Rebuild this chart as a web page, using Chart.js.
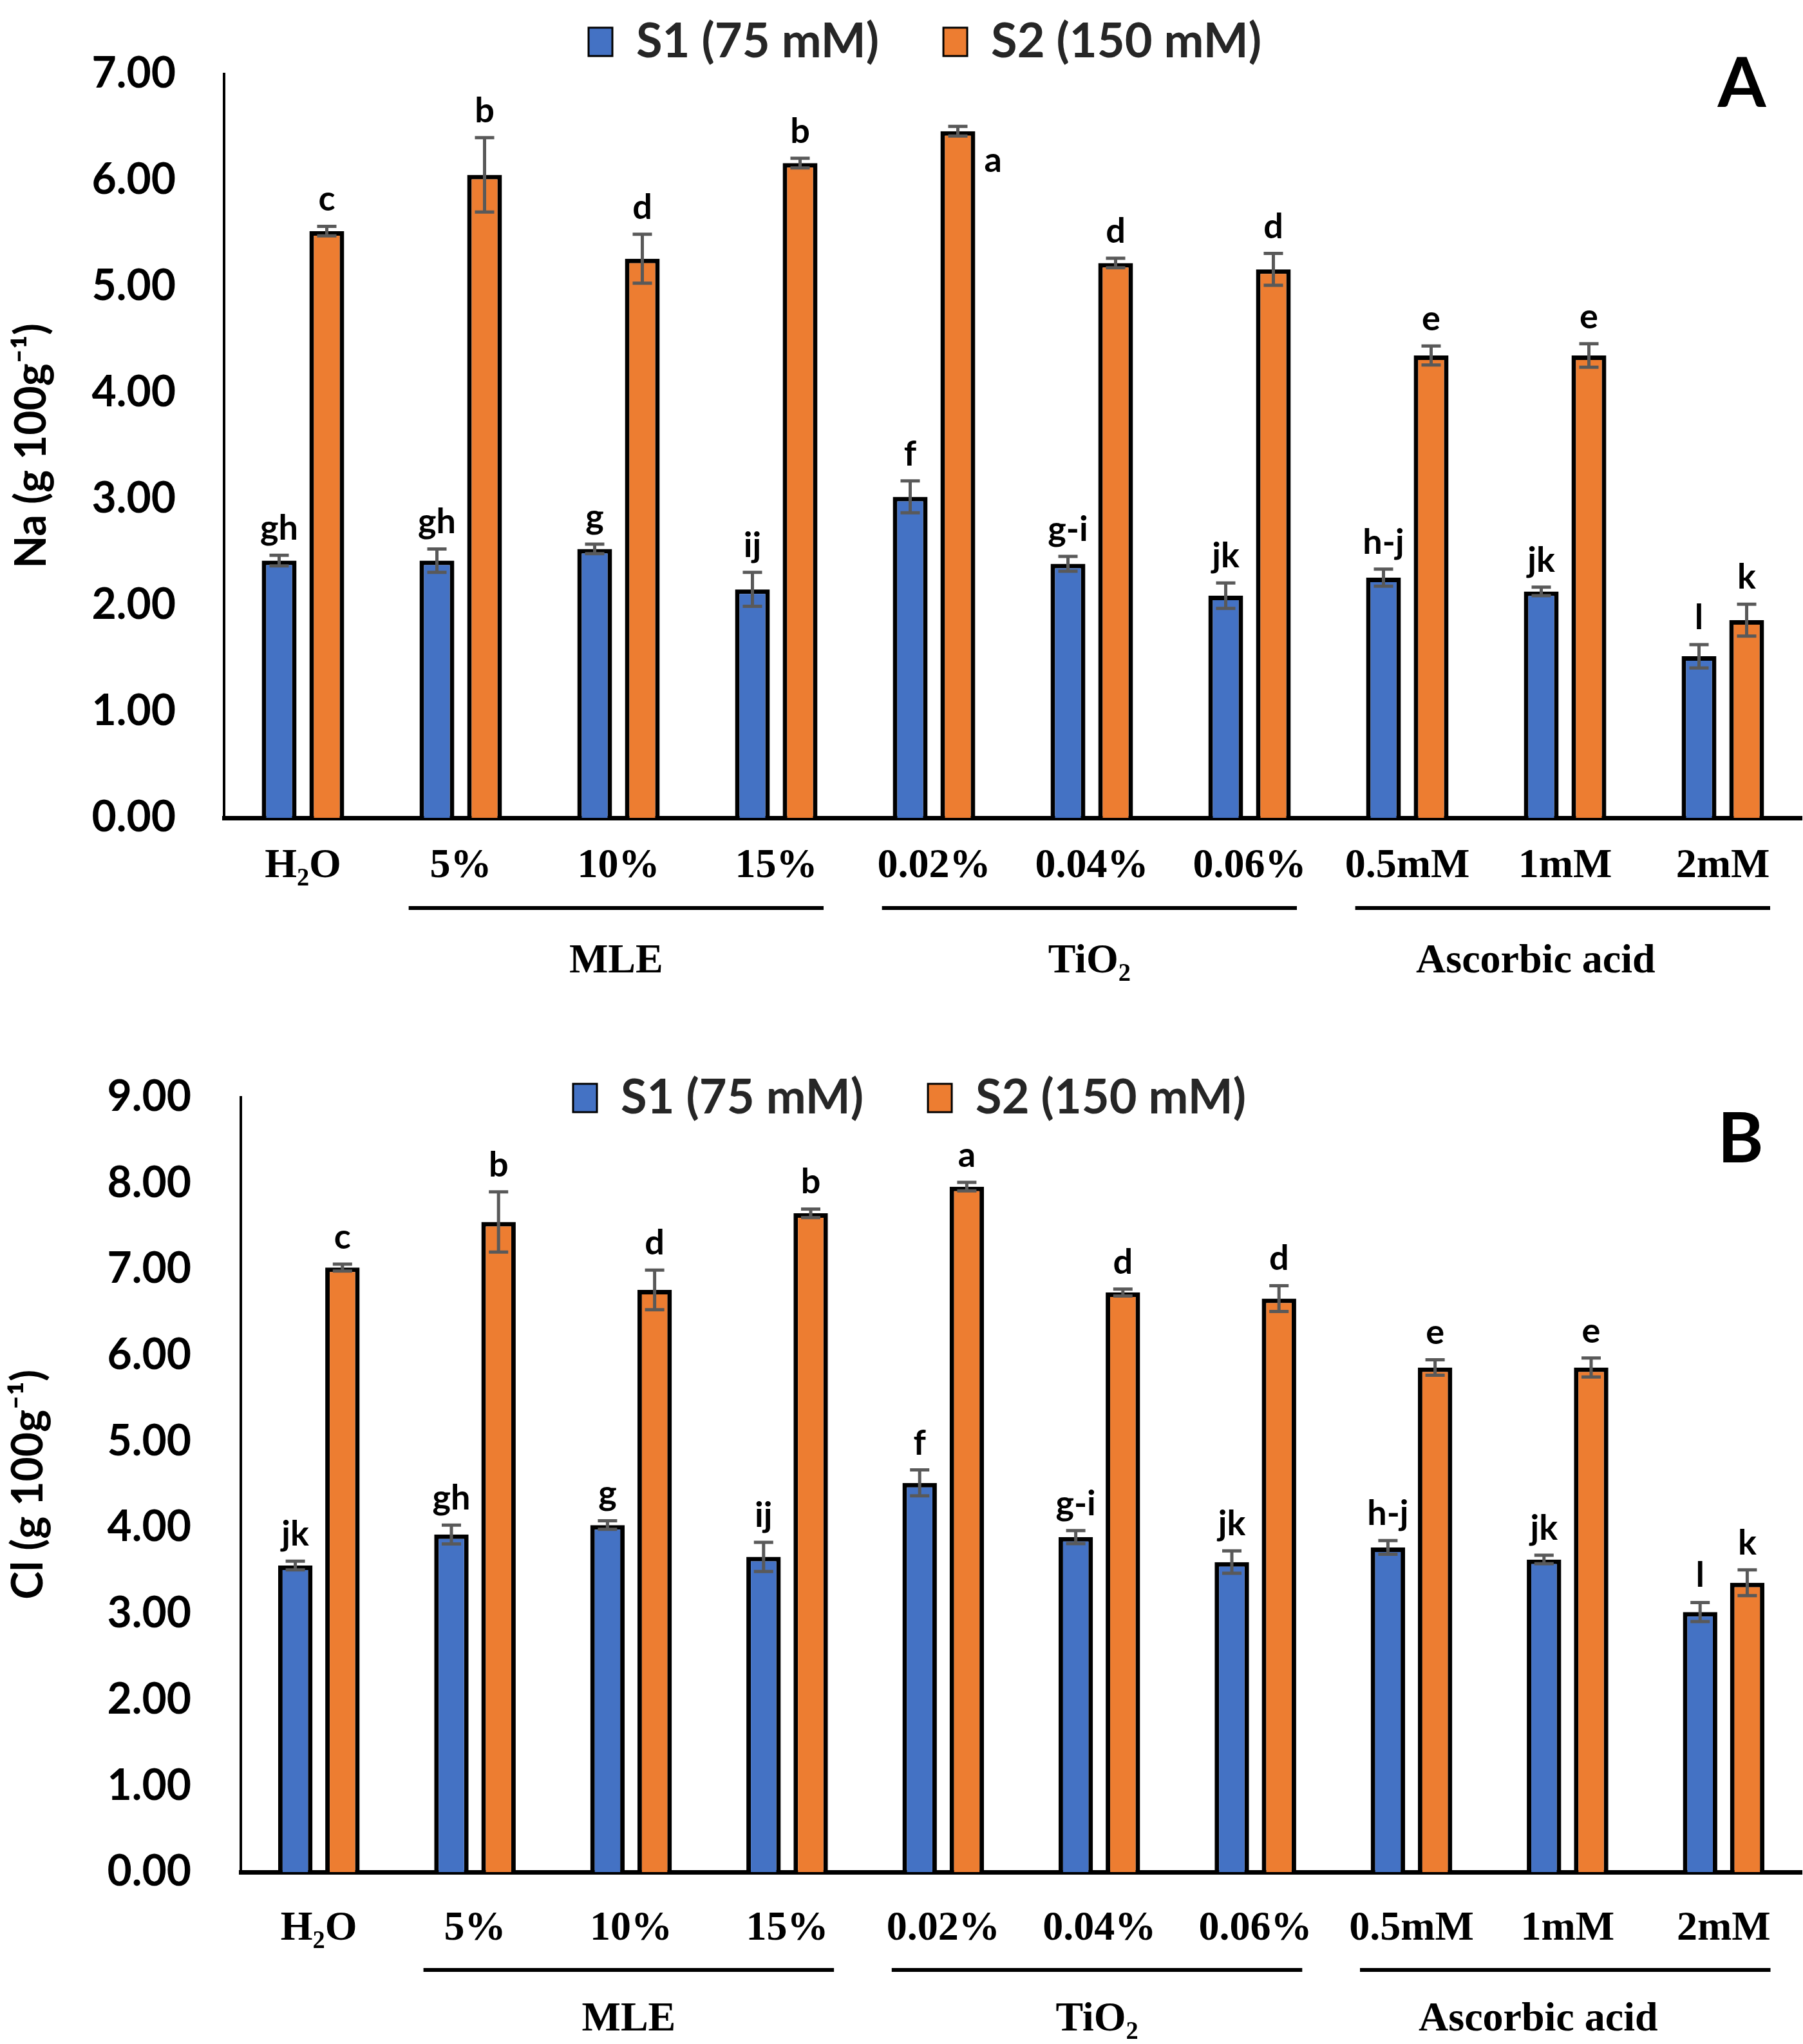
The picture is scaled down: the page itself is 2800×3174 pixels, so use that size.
<!DOCTYPE html>
<html>
<head>
<meta charset="utf-8">
<script src="https://cdn.jsdelivr.net/npm/chart.js@4.4.1/dist/chart.umd.min.js"></script>
<style>
  body { margin: 0; background: #fff; }
  canvas { display: block; }
</style>
</head>
<body>
<canvas id="naChart" width="2800" height="1587"></canvas>
<canvas id="clChart" width="2800" height="1587"></canvas>
<script>
var categories = ['H₂O', '5%', '10%', '15%', '0.02%', '0.04%', '0.06%', '0.5mM', '1mM', '2mM'];
var seriesNames = ['S1 (75 mM)', 'S2 (150 mM)'];

// Na (panel A)
var naS1 = [2.42, 2.42, 2.53, 2.15, 3.02, 2.39, 2.09, 2.26, 2.13, 1.52];
var naS1Err = [0.05, 0.11, 0.045, 0.16, 0.15, 0.07, 0.12, 0.08, 0.04, 0.11];
var naS2 = [5.52, 6.05, 5.26, 6.16, 6.46, 5.22, 5.16, 4.35, 4.35, 1.86];
var naS2Err = [0.045, 0.35, 0.23, 0.045, 0.045, 0.045, 0.15, 0.09, 0.11, 0.15];

// Cl (panel B)
var clS1 = [3.56, 3.92, 4.03, 3.66, 4.52, 3.89, 3.60, 3.77, 3.63, 3.02];
var clS1Err = [0.05, 0.11, 0.05, 0.17, 0.15, 0.075, 0.13, 0.08, 0.05, 0.11];
var clS2 = [7.02, 7.55, 6.76, 7.65, 7.96, 6.73, 6.66, 5.86, 5.86, 3.36];
var clS2Err = [0.04, 0.35, 0.23, 0.05, 0.05, 0.04, 0.15, 0.09, 0.11, 0.15];

var naS1Letters = ['gh', 'gh', 'g', 'ij', 'f', 'g-i', 'jk', 'h-j', 'jk', 'l'];
var clS1Letters = ['jk', 'gh', 'g', 'ij', 'f', 'g-i', 'jk', 'h-j', 'jk', 'l'];
var s2Letters = ['c', 'b', 'd', 'b', 'a', 'd', 'd', 'e', 'e', 'k'];

var groupNames = ['MLE', 'TiO₂', 'Ascorbic acid'];
var groupFirst = [1, 4, 7];
var groupLast = [3, 6, 9];

var blue = '#4472C4', orange = '#ED7D31';

// error bars, letters, group lines and panel letter
var barExtras = {
  id: 'barExtras',
  afterDatasetsDraw: function(chart, args, opts) {
    var ctx = chart.ctx, y = chart.scales.y;
    ctx.save();
    chart.data.datasets.forEach(function(ds, i) {
      chart.getDatasetMeta(i).data.forEach(function(bar, j) {
        var v = ds.data[j], e = ds.errors[j];
        var top = y.getPixelForValue(v + e), bot = y.getPixelForValue(v - e);
        ctx.strokeStyle = '#595959';
        ctx.lineWidth = 5;
        ctx.beginPath();
        ctx.moveTo(bar.x, top); ctx.lineTo(bar.x, bot);
        ctx.moveTo(bar.x - 15, top); ctx.lineTo(bar.x + 15, top);
        ctx.moveTo(bar.x - 15, bot); ctx.lineTo(bar.x + 15, bot);
        ctx.stroke();

        ctx.fillStyle = '#000';
        ctx.font = 'bold 54px Lato';
        if (opts.side && opts.side[0] === i && opts.side[1] === j) {
          ctx.textAlign = 'left';
          ctx.textBaseline = 'middle';
          ctx.fillText(ds.letters[j], bar.x + bar.width / 2 + 14, bar.y + 46);
        } else {
          ctx.textAlign = 'center';
          ctx.textBaseline = 'alphabetic';
          ctx.fillText(ds.letters[j], bar.x, top - 24);
        }
      });
    });
    ctx.restore();
  },
  afterDraw: function(chart, args, opts) {
    var ctx = chart.ctx, x = chart.scales.x;
    var cat = x.width / categories.length;
    var axisY = chart.chartArea.bottom;
    ctx.save();
    ctx.strokeStyle = '#000';
    ctx.lineWidth = 6;
    ctx.fillStyle = '#000';
    ctx.font = 'bold 64px "Liberation Serif"';
    ctx.textAlign = 'center';
    ctx.textBaseline = 'middle';
    for (var g = 0; g < groupNames.length; g++) {
      var a = x.getPixelForValue(groupFirst[g]) - cat * 0.33;
      var b = x.getPixelForValue(groupLast[g]) + cat * 0.3;
      ctx.beginPath();
      ctx.moveTo(a, axisY + opts.lineGap);
      ctx.lineTo(b, axisY + opts.lineGap);
      ctx.stroke();
      ctx.fillText(groupNames[g], (a + b) / 2 - (g === 2 ? 42 : 0), axisY + opts.labelGap);
    }
    ctx.font = 'bold 108px Lato';
    ctx.fillText(opts.panel, opts.panelX, opts.panelY);
    ctx.restore();
  }
};

// the legend sits inside the plot in the reference: it takes no height, then is moved there
var legendMove = {
  id: 'legendMove',
  afterUpdate: function(chart, args, opts) {
    var lg = chart.legend, pad = lg.options.labels.padding;
    lg.left = opts.x - pad;
    lg.right = chart.width + 2000;
    lg.top = opts.y - pad;
    lg.bottom = lg.top + 300;
  }
};

function makeChart(id, c) {
  return new Chart(document.getElementById(id), {
    type: 'bar',
    data: {
      labels: categories,
      datasets: [
        { label: seriesNames[0], data: c.s1, errors: c.s1Err, letters: c.s1Let,
          backgroundColor: blue, borderColor: '#000', borderWidth: 7 },
        { label: seriesNames[1], data: c.s2, errors: c.s2Err, letters: c.s2Let,
          backgroundColor: orange, borderColor: '#000', borderWidth: 7 }
      ]
    },
    options: {
      responsive: false,
      animation: false,
      devicePixelRatio: 1,
      barPercentage: 0.73,
      categoryPercentage: 0.604,
      layout: { padding: { top: c.top, right: 2, left: 0, bottom: 0 } },
      plugins: {
        tooltip: { enabled: false },
        legend: {
          position: 'top',
          align: 'start',
          maxHeight: 1,
          labels: {
            font: { family: 'Lato', size: 74, weight: 'bold' },
            color: '#262626',
            boxWidth: 37,
            boxHeight: 44,
            padding: 100,
            generateLabels: function(chart) {
              return Chart.defaults.plugins.legend.labels.generateLabels(chart).map(function(l) {
                l.lineWidth = 3;
                return l;
              });
            }
          }
        },
        legendMove: { x: c.legendX, y: c.legendY },
        barExtras: c.extras
      },
      scales: {
        x: {
          grid: { display: false, drawTicks: false },
          border: { color: '#000', width: 7 },
          ticks: {
            font: { family: 'Liberation Serif', size: 64, weight: 'bold' },
            color: '#000', padding: c.xPad, maxRotation: 0, autoSkip: false
          },
          afterFit: function(s) { s.height = c.xHeight; }
        },
        y: {
          min: 0, max: c.max,
          grid: { display: false, drawTicks: false },
          border: { color: '#000', width: 4 },
          ticks: {
            stepSize: 1,
            callback: function(v) { return v.toFixed(2); },
            font: { family: 'Lato', size: 66, weight: 'bold' },
            color: '#000', padding: c.yPad
          },
          title: {
            display: true, text: c.title, color: '#000',
            font: { family: 'Lato', size: 66, weight: 'bold' },
            padding: { top: c.titlePad, bottom: 0 }
          },
          afterFit: function(s) { s.width = c.left; }
        }
      }
    },
    plugins: [barExtras, legendMove]
  });
}

makeChart('naChart', {
  s1: naS1, s1Err: naS1Err, s1Let: naS1Letters,
  s2: naS2, s2Err: naS2Err, s2Let: s2Letters,
  max: 7, title: 'Na (g 100g⁻¹)',
  top: 56, left: 348, xHeight: 317, xPad: 37, yPad: 75, titlePad: 10,
  legendX: 914, legendY: 28,
  extras: { side: [1, 4], lineGap: 140, labelGap: 223, panel: 'A', panelX: 2705, panelY: 131 }
});

makeChart('clChart', {
  s1: clS1, s1Err: clS1Err, s1Let: clS1Letters,
  s2: clS2, s2Err: clS2Err, s2Let: s2Letters,
  max: 9, title: 'Cl (g 100g⁻¹)',
  top: 105, left: 374, xHeight: 267, xPad: 50, yPad: 77, titlePad: 5,
  legendX: 890, legendY: 81,
  extras: { side: null, lineGap: 152, labelGap: 229, panel: 'B', panelX: 2703, panelY: 183 }
});
</script>
</body>
</html>
